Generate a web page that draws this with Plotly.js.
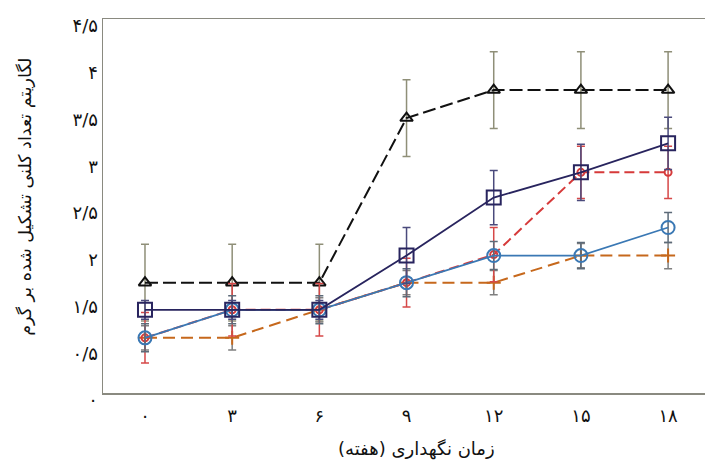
<!DOCTYPE html>
<html>
<head>
<meta charset="utf-8">
<script src="https://cdn.plot.ly/plotly-3.0.1.min.js"></script>
<style>
html,body{margin:0;padding:0;background:#fff;overflow:hidden;}
#chart{width:705px;height:460px;}
</style>
</head>
<body>
<div id="chart"></div>
<script>
// weeks of storage
const weeks = [0, 3, 6, 9, 12, 15, 18];
const xTickText = ['۰', '۳', '۶', '۹', '۱۲', '۱۵', '۱۸'];
const yTickVals = [0, 0.5, 1, 1.5, 2, 2.5, 3, 3.5, 4];
const yTickText = ['۰', '۰/۵', '۱/۵', '۲', '۲/۵', '۳', '۳/۵', '۴', '۴/۵'];
const xTitle = 'زمان نگهداری (هفته)';
const yTitle = 'لگاریتم تعداد کلنی تشکیل شده بر گرم';

// series values (log CFU/g) and error half-widths
const triVals    = [1.18, 1.18, 1.18, 2.94, 3.24, 3.24, 3.24];
const triErr     = [0.41, 0.41, 0.41, 0.41, 0.41, 0.41, 0.41];
const squareVals = [0.89, 0.89, 0.89, 1.47, 2.09, 2.36, 2.67];
const squareErr  = [0.10, 0.10, 0.10, 0.30, 0.29, 0.30, 0.28];
const redVals    = [0.59, 0.89, 0.89, 1.18, 1.48, 2.36, 2.36];
const redErr     = [0.27, 0.28, 0.28, 0.26, 0.29, 0.28, 0.28];
const blueVals   = [0.59, 0.89, 0.89, 1.18, 1.47, 1.47, 1.77];
const blueErr    = [0.15, 0.15, 0.15, 0.15, 0.15, 0.14, 0.16];
const orangeVals = [0.59, 0.59, 0.89, 1.18, 1.18, 1.47, 1.47];
const orangeErr  = [0.13, 0.13, 0.13, 0.13, 0.13, 0.13, 0.14];

function series(y, err, lineColor, dash, width, marker, errColor) {
  return {
    type: 'scatter', mode: 'lines+markers', x: weeks, y: y,
    line: {color: lineColor, dash: dash, width: width},
    marker: marker,
    error_y: {type: 'data', array: err, visible: true, color: errColor, thickness: 1.5, width: 4},
    showlegend: false, hoverinfo: 'x+y'
  };
}

const data = [
  series(triVals, triErr, '#111111', '13px,5px', 2,
    {symbol: 'triangle-up-open', size: 11, color: '#111111', line: {width: 2, color: '#111111'}}, '#8f8f78'),
  series(orangeVals, orangeErr, '#c6681c', '12px,6px', 2,
    {symbol: 'cross-thin-open', size: 10, color: '#c6681c', line: {width: 2, color: '#c6681c'}}, '#7f7f7f'),
  series(redVals, redErr, '#d63a3a', '10px,5px', 2,
    {symbol: 'circle-open', size: 7, color: '#d63a3a', line: {width: 2, color: '#d63a3a'}}, '#d64848'),
  series(blueVals, blueErr, '#3a78b4', 'solid', 1.8,
    {symbol: 'circle-open', size: 13, color: '#3a78b4', line: {width: 2, color: '#3a78b4'}}, '#5c6a78'),
  series(squareVals, squareErr, '#28245e', 'solid', 1.8,
    {symbol: 'square-open', size: 14, color: '#28245e', line: {width: 2, color: '#28245e'}}, '#4a4a7c')
];

const FONT = 'DejaVu Sans, sans-serif';
const layout = {
  width: 705, height: 460,
  margin: {l: 103, r: 0, t: 19, b: 67},
  paper_bgcolor: '#ffffff', plot_bgcolor: '#ffffff',
  font: {family: FONT, size: 14, color: '#111111'},
  xaxis: {
    range: [-1.445, 19.27],
    tickvals: weeks, ticktext: xTickText,
    showgrid: false, zeroline: false, ticks: '',
    showline: true, mirror: true, linecolor: '#8a8a80', linewidth: 1.5,
    tickfont: {family: FONT, size: 18, color: '#111111'},
    ticklabelstandoff: 6,
    automargin: false, fixedrange: true
  },
  yaxis: {
    range: [0, 4.0],
    tickvals: yTickVals, ticktext: yTickText,
    showgrid: false, zeroline: false, ticks: '',
    showline: true, mirror: false, linecolor: '#8a8a80', linewidth: 1.5,
    tickfont: {family: FONT, size: 18, color: '#111111'},
    ticklabelshift: 7,
    automargin: false, fixedrange: true
  },
  annotations: [
    {text: xTitle + '\u200F', xref: 'paper', yref: 'paper', x: 0.52, y: -0.15,
     xanchor: 'center', yanchor: 'middle', showarrow: false,
     font: {family: FONT, size: 18, color: '#111111'}},
    {text: yTitle + '\u200F', xref: 'paper', yref: 'paper', x: -0.13, y: 0.524,
     xanchor: 'center', yanchor: 'middle', showarrow: false, textangle: -90,
     font: {family: FONT, size: 17.5, color: '#111111'}}
  ]
};

Plotly.newPlot('chart', data, layout, {displayModeBar: false, staticPlot: true});
</script>
</body>
</html>
